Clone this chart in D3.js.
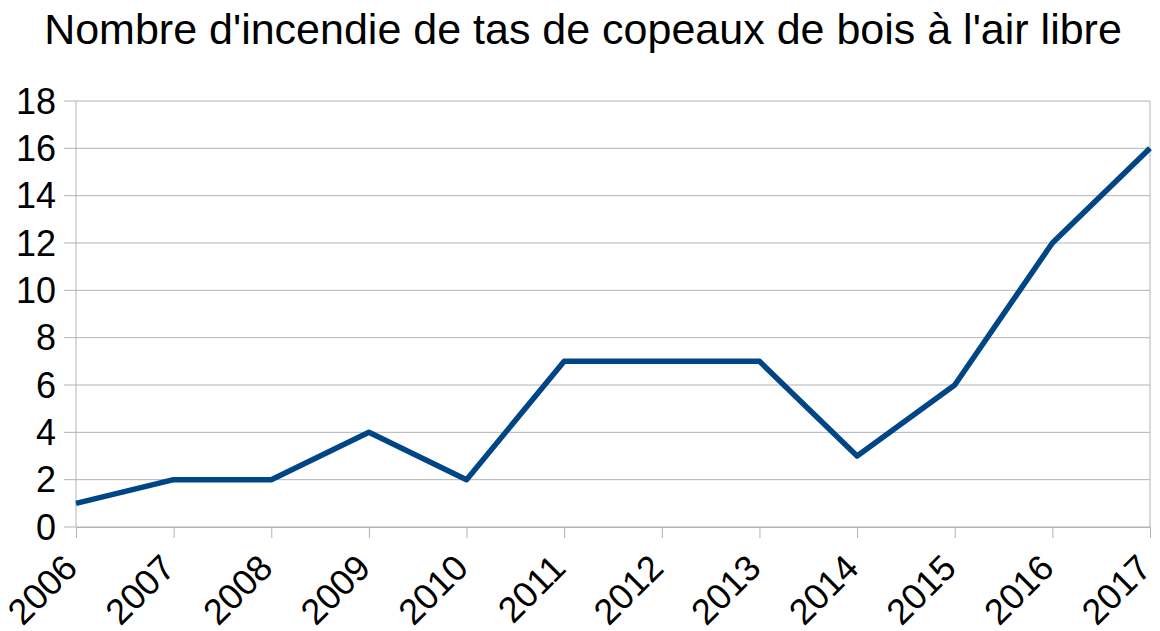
<!DOCTYPE html>
<html>
  <head>
    <meta charset="utf-8">
    <title>Nombre d'incendie de tas de copeaux de bois</title>
    <script src="https://cdn.jsdelivr.net/npm/d3@7"></script>
    <style>
      body { margin: 0; background: #fff; }
      text { font-family: "Liberation Sans", Arial, sans-serif; fill: #000; }
    </style>
  </head>
  <body>
    <div class="chart"></div>
    <script>
    var years = ["2006","2007","2008","2009","2010","2011","2012","2013","2014","2015","2016","2017"];
    var fires = [1, 2, 2, 4, 2, 7, 7, 7, 3, 6, 12, 16];
    var yTicks = [0, 2, 4, 6, 8, 10, 12, 14, 16, 18];

    var W = 1160, H = 631;
    var margin = {top: 101, right: 10, bottom: 104, left: 76},
        width = W - margin.left - margin.right,
        height = H - margin.top - margin.bottom;

    var svg = d3.select(".chart").append("svg")
        .attr("width", W).attr("height", H);

    svg.append("text")
        .attr("x", 583).attr("y", 44)
        .attr("text-anchor", "middle")
        .attr("font-size", "43px")
        .text("Nombre d'incendie de tas de copeaux de bois à l'air libre");

    var g = svg.append("g").attr("transform", "translate(" + margin.left + "," + margin.top + ")");

    var x = d3.scalePoint().domain(years).range([0, width]);
    var y = d3.scaleLinear().domain([0, 18]).range([height, 0]);

    // horizontal gridlines
    g.selectAll(".grid")
        .data(yTicks)
        .enter()
        .append("line")
        .attr("class", "grid")
        .attr("x1", -12).attr("x2", width)
        .attr("y1", function(d) { return y(d); })
        .attr("y2", function(d) { return y(d); })
        .attr("stroke", "#b3b3b3");

    // y labels
    g.selectAll(".ylab")
        .data(yTicks)
        .enter()
        .append("text")
        .attr("class", "ylab")
        .attr("x", -20)
        .attr("y", function(d) { return y(d); })
        .attr("dy", "0.35em")
        .attr("text-anchor", "end")
        .attr("font-size", "36px")
        .text(function(d) { return d; });

    // vertical frame lines
    g.append("line").attr("x1", 0).attr("x2", 0).attr("y1", 0).attr("y2", height)
        .attr("stroke", "#b3b3b3");
    g.append("line").attr("x1", width).attr("x2", width).attr("y1", 0).attr("y2", height)
        .attr("stroke", "#b3b3b3");

    // x axis
    var xAxis = g.append("g")
        .attr("transform", "translate(0," + height + ")")
        .call(d3.axisBottom(x).tickSize(11).tickPadding(4));
    xAxis.select(".domain").attr("stroke", "#b3b3b3");
    xAxis.selectAll(".tick line").attr("stroke", "#b3b3b3");
    xAxis.selectAll(".tick text")
        .attr("font-size", "36px")
        .attr("text-anchor", "end")
        .attr("dy", null)
        .attr("y", 0)
        .attr("transform", "translate(3,43) rotate(-45)");

    var line = d3.line()
        .x(function(d, i) { return x(years[i]); })
        .y(function(d) { return y(d); });

    g.append("path")
        .datum(fires)
        .attr("fill", "none")
        .attr("stroke", "#004586")
        .attr("stroke-width", 5.5)
        .attr("stroke-linejoin", "round")
        .attr("d", line);
    </script>
  </body>
</html>
